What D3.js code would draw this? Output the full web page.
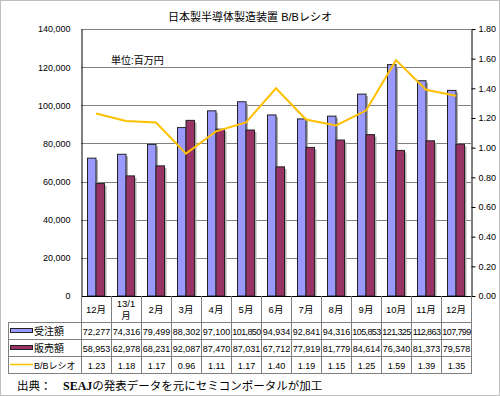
<!DOCTYPE html>
<html>
<head>
<meta charset="utf-8">
<script src="https://cdn.jsdelivr.net/npm/d3@7"></script>
<style>
  body { margin: 0; background: #fff; }
  svg { display: block; font-family: "Liberation Sans", "Noto Sans CJK JP", sans-serif; }
</style>
</head>
<body>
<div id="chart"></div>
<script>
// data +++++++++++++++++++++++++++++++++++++
const months = ["12月", "13/1月", "2月", "3月", "4月", "5月", "6月", "7月", "8月", "9月", "10月", "11月", "12月"];
const orders = [72277, 74316, 79499, 88302, 97100, 101850, 94934, 92841, 94316, 105853, 121325, 112863, 107799];
const sales = [58953, 62978, 68231, 92087, 87470, 87031, 67712, 77919, 81779, 84614, 76340, 81373, 79578];
const bbRatio = [1.23, 1.18, 1.17, 0.96, 1.11, 1.17, 1.40, 1.19, 1.15, 1.25, 1.59, 1.39, 1.35];
const leftTicks = [0, 20000, 40000, 60000, 80000, 100000, 120000, 140000];
const rightTicks = [0, 0.2, 0.4, 0.6, 0.8, 1.0, 1.2, 1.4, 1.6, 1.8];
// data -------------------------------------

const W = 500, H = 396;
const plot = { left: 81, right: 471, top: 29, bottom: 296 };
const rows = [322, 339, 356, 373]; // table row lines

const svg = d3.select("#chart").append("svg")
  .attr("width", W)
  .attr("height", H);

// outer frame
svg.append("rect")
  .attr("x", 0.5).attr("y", 0.5)
  .attr("width", W - 1).attr("height", H - 1)
  .attr("fill", "#fff").attr("stroke", "#c0c0c0");

const x = d3.scaleBand()
  .domain(d3.range(months.length))
  .range([plot.left, plot.right]);

const yL = d3.scaleLinear().domain([0, 140000]).range([plot.bottom, plot.top]);
const yR = d3.scaleLinear().domain([0, 1.8]).range([plot.bottom, plot.top]);

// gridlines
svg.append("g").selectAll("line")
  .data(leftTicks.slice(1))
  .join("line")
  .attr("x1", plot.left).attr("x2", plot.right)
  .attr("y1", d => Math.round(yL(d)) + 0.5)
  .attr("y2", d => Math.round(yL(d)) + 0.5)
  .attr("stroke", "#808080");

// left axis
const leftAxis = svg.append("g")
  .attr("transform", `translate(${plot.left + 0.5},0)`)
  .call(d3.axisLeft(yL).tickValues(leftTicks).tickFormat(d3.format(",")).tickSize(0).tickPadding(11));
leftAxis.select(".domain").attr("stroke", "#000");
leftAxis.selectAll("text").attr("font-size", 9).attr("fill", "#000");

// right axis
const rightAxis = svg.append("g")
  .attr("transform", `translate(${plot.right + 0.5},0)`)
  .call(d3.axisRight(yR).tickValues(rightTicks).tickFormat(d3.format(".2f")).tickSize(4).tickPadding(3).tickSizeOuter(0));
rightAxis.select(".domain").attr("stroke", "#000");
rightAxis.selectAll(".tick line").attr("stroke", "#000");
rightAxis.selectAll("text").attr("font-size", 9).attr("fill", "#000");

// bars
const bw = 8.5;
const series = [
  { values: orders, color: "#9999ff", off: -bw },
  { values: sales, color: "#993366", off: 0 }
];
series.forEach(s => {
  const g = svg.append("g");
  // shadow
  g.selectAll("rect.shadow")
    .data(s.values)
    .join("rect")
    .attr("class", "shadow")
    .attr("x", (d, i) => x(i) + x.bandwidth() / 2 + s.off + 2)
    .attr("y", d => yL(d) + 2)
    .attr("width", bw)
    .attr("height", d => plot.bottom - yL(d) - 2)
    .attr("fill", "#b0b0b0");
  g.selectAll("rect.bar")
    .data(s.values)
    .join("rect")
    .attr("class", "bar")
    .attr("x", (d, i) => x(i) + x.bandwidth() / 2 + s.off)
    .attr("y", d => yL(d))
    .attr("width", bw)
    .attr("height", d => plot.bottom - yL(d))
    .attr("fill", s.color)
    .attr("stroke", "#222")
    .attr("stroke-width", 1);
});

// B/B line
svg.append("path")
  .datum(bbRatio)
  .attr("fill", "none")
  .attr("stroke", "#ffc000")
  .attr("stroke-width", 2)
  .attr("d", d3.line().x((d, i) => x(i) + x.bandwidth() / 2).y(d => yR(d)));

// bottom axis line
svg.append("line")
  .attr("x1", plot.left).attr("x2", plot.right + 1)
  .attr("y1", plot.bottom + 0.5).attr("y2", plot.bottom + 0.5)
  .attr("stroke", "#000");

// title & unit
svg.append("text")
  .attr("x", 250).attr("y", 21)
  .attr("text-anchor", "middle")
  .attr("font-size", 11)
  .text("日本製半導体製造装置 B/Bレシオ");

svg.append("text")
  .attr("x", 111).attr("y", 64)
  .attr("font-size", 10)
  .text("単位:百万円");

// table ++++++++++++++++++++++++++++++++++++
const tbl = svg.append("g").attr("stroke", "#808080");
// column separators
d3.range(months.length + 1).forEach(i => {
  const xx = Math.round(plot.left + i * x.step()) + 0.5;
  tbl.append("line")
    .attr("x1", xx).attr("x2", xx)
    .attr("y1", plot.bottom).attr("y2", rows[3]);
});
tbl.append("line")
  .attr("x1", 8.5).attr("x2", 8.5)
  .attr("y1", rows[0]).attr("y2", rows[3]);
rows.forEach(r => {
  tbl.append("line")
    .attr("x1", 8).attr("x2", plot.right + 1)
    .attr("y1", r + 0.5).attr("y2", r + 0.5);
});

// category labels
const cat = svg.append("g").attr("font-size", 9.5).attr("text-anchor", "middle");
months.forEach((m, i) => {
  const cx = x(i) + x.bandwidth() / 2;
  if (m === "13/1月") {
    cat.append("text").attr("x", cx).attr("y", 307).text("13/1");
    cat.append("text").attr("x", cx).attr("y", 319).text("月");
  } else {
    cat.append("text").attr("x", cx).attr("y", 313).text(m);
  }
});

// value rows
const tableRows = [
  { label: "受注額", values: orders, fmt: d3.format(","), color: "#9999ff", kind: "bar" },
  { label: "販売額", values: sales, fmt: d3.format(","), color: "#993366", kind: "bar" },
  { label: "B/Bレシオ", values: bbRatio, fmt: d3.format(".2f"), color: "#ffc000", kind: "line" }
];
tableRows.forEach((r, ri) => {
  const top = rows[ri];
  const mid = top + 12.5;
  if (r.kind === "bar") {
    svg.append("rect")
      .attr("x", 10.5).attr("y", top + 6.5)
      .attr("width", 22).attr("height", 4)
      .attr("fill", r.color).attr("stroke", "#222");
  } else {
    svg.append("line")
      .attr("x1", 10).attr("x2", 33)
      .attr("y1", top + 8.5).attr("y2", top + 8.5)
      .attr("stroke", r.color).attr("stroke-width", 1.5);
  }
  svg.append("text")
    .attr("x", 34).attr("y", mid)
    .attr("font-size", r.kind === "line" ? 9 : 10)
    .text(r.label);
  svg.append("g").selectAll("text")
    .data(r.values)
    .join("text")
    .attr("x", (d, i) => x(i) + x.bandwidth() / 2 + 0.5)
    .attr("y", mid)
    .attr("text-anchor", "middle")
    .attr("font-size", 9)
    .attr("letter-spacing", d => r.fmt(d).length > 6 ? -0.6 : 0)
    .text(d => r.fmt(d));
});

// source note
const src = svg.append("text")
  .attr("x", 17).attr("y", 390)
  .attr("font-size", 11.5);
src.append("tspan").text("出典：　");
src.append("tspan").attr("font-family", "Liberation Serif").attr("font-weight", "bold").attr("font-size", 12).text("SEAJ");
src.append("tspan").text("の発表データを元にセミコンポータルが加工");
</script>
</body>
</html>
